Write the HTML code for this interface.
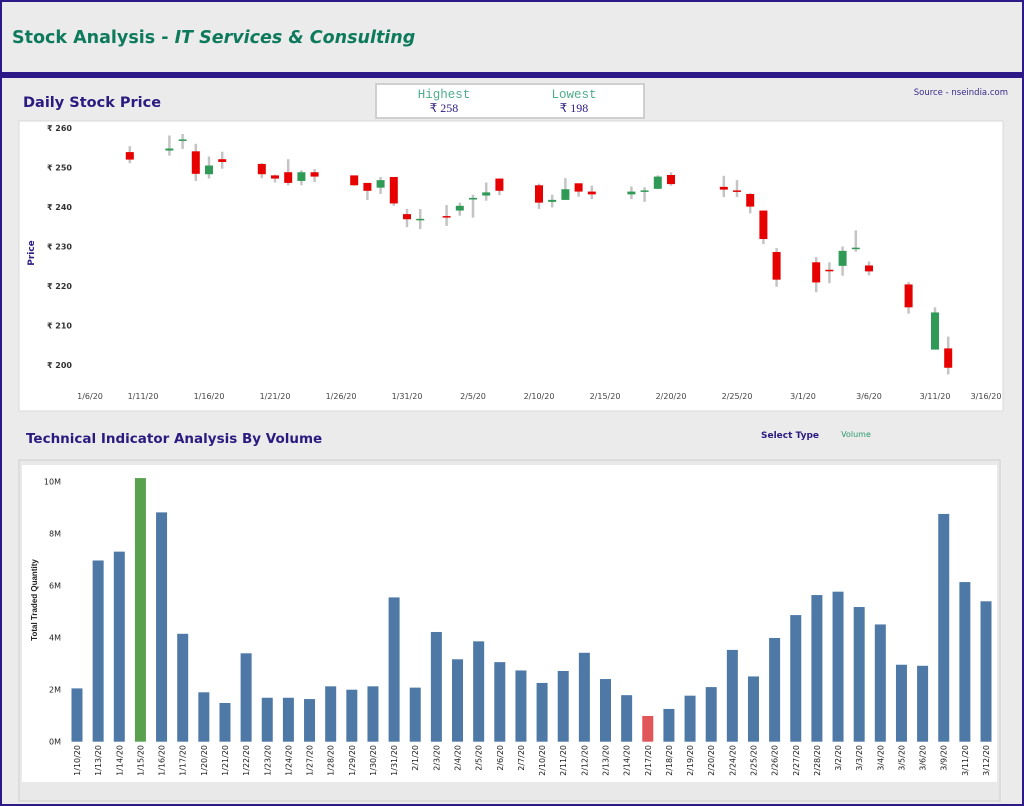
<!DOCTYPE html>
<html><head><meta charset="utf-8"><style>
body{margin:0;width:1024px;height:806px;overflow:hidden;background:#ebebeb;font-family:"DejaVu Sans","Liberation Sans",sans-serif}
svg{display:block}
</style></head><body>
<svg id="s" width="1024" height="806" viewBox="0 0 1024 806">
<rect x="0" y="0" width="1024" height="806" fill="#ebebeb"/>
<rect x="1" y="1" width="1022" height="804" fill="none" stroke="#2e1a87" stroke-width="2"/>
<rect x="0" y="72" width="1024" height="6" fill="#2e1a87"/>
<text x="12" y="43" font-size="17.5" font-weight="bold" fill="#0e7a5c">Stock Analysis - <tspan font-style="italic">IT Services &amp; Consulting</tspan></text>
<text x="23" y="107" font-size="14.5" font-weight="bold" fill="#2b1b80">Daily Stock Price</text>
<g>
<rect x="376" y="84" width="268" height="34" fill="#fff" stroke="#cfcfcf" stroke-width="2"/>
<text x="444" y="98" font-size="12.5" text-anchor="middle" fill="#4fae8c" font-family="Liberation Mono,monospace">Highest</text>
<text x="444" y="112" font-size="12" text-anchor="middle" fill="#2b1b80" font-family="Liberation Serif,serif">₹ 258</text>
<text x="574" y="98" font-size="12.5" text-anchor="middle" fill="#4fae8c" font-family="Liberation Mono,monospace">Lowest</text>
<text x="574" y="112" font-size="12" text-anchor="middle" fill="#2b1b80" font-family="Liberation Serif,serif">₹ 198</text>
</g>
<text x="1008" y="95" font-size="8.5" text-anchor="end" fill="#3a2a8a">Source - nseindia.com</text>
<rect x="19" y="121" width="984" height="290" fill="#fff" stroke="#d8d8d8"/>
<text transform="translate(34,253) rotate(-90)" font-size="9" font-weight="bold" fill="#2b1b80" text-anchor="middle">Price</text>
<g id="candles"></g>
<text x="26" y="443" font-size="13.5" font-weight="bold" fill="#2b1b80">Technical Indicator Analysis By Volume</text>
<text x="790" y="438" font-size="9" font-weight="bold" fill="#2b1b80" text-anchor="middle">Select Type</text>
<text x="856" y="437" font-size="8" fill="#2a9a6e" text-anchor="middle">Volume</text>
<rect x="19" y="460" width="981" height="341" fill="#e9e9e9" stroke="#cfcfcf"/>
<rect x="22" y="465" width="975" height="317" fill="#fff"/>
<text transform="translate(37,600) rotate(-90)" font-size="8" font-weight="bold" fill="#222" text-anchor="middle" font-family="Liberation Sans Narrow,Liberation Sans,sans-serif">Total Traded Quantity</text>
<g id="bars"></g>
</svg>
<script>
const dates=["1/10/20","1/13/20","1/14/20","1/15/20","1/16/20","1/17/20","1/20/20","1/21/20","1/22/20","1/23/20","1/24/20","1/27/20","1/28/20","1/29/20","1/30/20","1/31/20","2/1/20","2/3/20","2/4/20","2/5/20","2/6/20","2/7/20","2/10/20","2/11/20","2/12/20","2/13/20","2/14/20","2/17/20","2/18/20","2/19/20","2/20/20","2/24/20","2/25/20","2/26/20","2/27/20","2/28/20","3/2/20","3/3/20","3/4/20","3/5/20","3/6/20","3/9/20","3/11/20","3/12/20"];
const dayIndex=[4,7,8,9,10,11,14,15,16,17,18,21,22,23,24,25,26,28,29,30,31,32,35,36,37,38,39,42,43,44,45,49,50,51,52,53,56,57,58,59,60,63,65,66];
const openP=[253.9,254.3,256.8,254.1,248.3,252.1,250.9,248.0,248.8,246.6,248.8,248.0,246.1,244.9,247.6,238.2,236.8,237.7,239.1,241.9,242.9,247.2,245.5,241.3,241.8,246.0,243.9,243.2,244.0,244.6,248.1,245.1,244.2,243.3,239.1,228.6,226.0,224.1,225.1,229.4,225.2,220.4,203.9,204.2];
const closeP=[252.0,254.8,257.1,248.4,250.5,251.4,248.3,247.2,246.1,248.8,247.7,245.5,244.1,246.8,240.9,236.9,237.0,237.5,240.3,242.3,243.7,244.1,241.1,241.8,244.5,243.9,243.2,243.9,244.2,247.7,245.8,244.4,244.1,240.1,231.9,221.6,220.9,223.9,228.9,229.7,223.7,214.6,213.3,199.3];
const highP=[255.4,258.1,258.5,256.0,252.8,254.0,251.1,248.2,252.1,249.3,249.6,248.0,246.1,247.6,247.6,239.5,239.5,240.5,241.1,243.1,246.2,247.2,245.9,243.1,247.3,246.0,245.4,245.2,245.0,248.0,248.8,247.9,246.8,243.5,239.1,229.6,227.3,226.0,230.0,234.1,226.2,221.0,214.6,207.2];
const lowP=[251.1,253.0,254.7,246.6,247.2,249.7,247.3,246.2,245.5,245.5,246.3,245.4,241.8,243.3,240.3,234.9,234.4,235.2,237.8,237.3,241.6,243.0,239.5,239.9,241.8,242.6,242.0,242.0,241.3,244.6,245.4,242.5,242.5,238.4,230.6,219.8,218.4,220.7,222.6,228.7,222.7,213.0,203.9,197.6];
const priceTicks=[200,210,220,230,240,250,260];
const dateTicks=["1/6/20","1/11/20","1/16/20","1/21/20","1/26/20","1/31/20","2/5/20","2/10/20","2/15/20","2/20/20","2/25/20","3/1/20","3/6/20","3/11/20","3/16/20"];
const volume=[2.05,6.97,7.31,10.14,8.82,4.15,1.9,1.49,3.4,1.69,1.69,1.64,2.13,2.0,2.13,5.55,2.08,4.22,3.17,3.86,3.06,2.74,2.26,2.72,3.42,2.41,1.79,0.99,1.26,1.77,2.1,3.53,2.51,3.99,4.87,5.64,5.77,5.18,4.51,2.96,2.92,8.76,6.14,5.4];
const volTicks=[0,2,4,6,8,10];
const NS="http://www.w3.org/2000/svg";
function mk(p,t,a){const e=document.createElementNS(NS,t);for(const k in a)e.setAttribute(k,a[k]);p.appendChild(e);return e;}
const py=p=>128+(260-p)*3.95;
const dx=d=>77+d*13.2;
const cg=document.getElementById('candles');
priceTicks.forEach(v=>{const t=mk(cg,'text',{x:72,y:py(v)+3,'font-size':8,fill:'#333','font-weight':'bold','text-anchor':'end'});t.textContent='₹ '+v;

});
dateTicks.forEach((s,i)=>{let x=dx(i*5);if(i==0)x=90;if(i==dateTicks.length-1)x=986;const t=mk(cg,'text',{x:x,y:399,'font-size':8,fill:'#444','text-anchor':'middle'});t.textContent=s;

});
dates.forEach((d,i)=>{const x=dx(dayIndex[i]);const up=closeP[i]>=openP[i];const col=up?'#2e9a55':'#e60000';
const w=mk(cg,'line',{x1:x,x2:x,y1:py(highP[i]),y2:py(lowP[i]),stroke:'#c4c4c4','stroke-width':2.5});


const top=py(Math.max(openP[i],closeP[i])),h=Math.max(1.5,Math.abs(py(openP[i])-py(closeP[i])));
const r=mk(cg,'rect',{x:x-4,y:top,width:8,height:h,fill:col});

});
const bg=document.getElementById('bars');
const vy=v=>741.7-v*26;
const bx=i=>77+i*21.14;
volTicks.forEach(v=>{const t=mk(bg,'text',{x:61,y:vy(v)+3,'font-size':8,fill:'#222','text-anchor':'end'});t.textContent=v+'M';

});
volume.forEach((v,i)=>{const isMax=v===Math.max(...volume),isMin=v===Math.min(...volume);
const r=mk(bg,'rect',{x:bx(i)-5.5,y:vy(v),width:11,height:v*26,fill:isMax?'#59a14f':isMin?'#e15759':'#4e79a7'});


const t=mk(bg,'text',{transform:`translate(${bx(i)+3},${745}) rotate(-90)`,'font-size':8,fill:'#222','text-anchor':'end'});t.textContent=dates[i];

});
</script>
</body></html>
